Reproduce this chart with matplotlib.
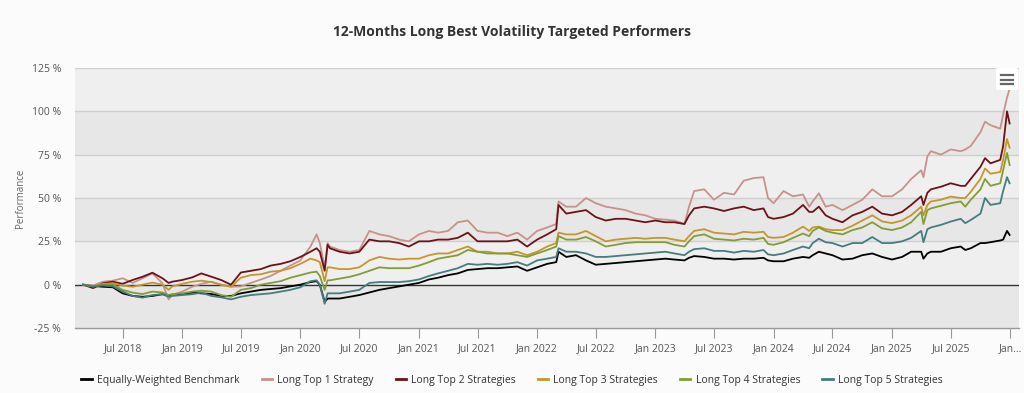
import matplotlib
matplotlib.use("Agg")
import matplotlib.pyplot as plt
from matplotlib.lines import Line2D
from matplotlib.patches import FancyBboxPatch
import pandas as pd

plt.rcParams['font.family'] = ['Open Sans', 'DejaVu Sans']

dates = [
    "2018-03-01", "2018-04-01", "2018-05-01", "2018-06-01", "2018-07-01", "2018-08-01",
    "2018-09-01", "2018-10-01", "2018-11-01", "2018-11-20", "2018-12-01", "2019-01-01",
    "2019-02-01", "2019-03-01", "2019-04-01", "2019-05-01", "2019-06-01", "2019-07-01",
    "2019-08-01", "2019-09-01", "2019-10-01", "2019-11-01", "2019-12-01", "2020-01-01",
    "2020-02-01", "2020-02-20", "2020-03-01", "2020-03-16", "2020-03-25", "2020-04-01",
    "2020-05-01", "2020-06-01", "2020-07-01", "2020-08-01", "2020-09-01", "2020-10-01",
    "2020-11-01", "2020-12-01", "2021-01-01", "2021-02-01", "2021-03-01", "2021-04-01",
    "2021-05-01", "2021-06-01", "2021-07-01", "2021-08-01", "2021-09-01", "2021-10-01",
    "2021-11-01", "2021-12-01", "2022-01-01", "2022-02-01", "2022-03-01", "2022-03-08",
    "2022-04-01", "2022-05-01", "2022-06-01", "2022-07-01", "2022-08-01", "2022-09-01",
    "2022-10-01", "2022-11-01", "2022-12-01", "2023-01-01", "2023-02-01", "2023-03-01",
    "2023-04-01", "2023-04-15", "2023-05-01", "2023-06-01", "2023-07-01", "2023-08-01",
    "2023-09-01", "2023-10-01", "2023-11-01", "2023-12-01", "2023-12-15", "2024-01-01",
    "2024-02-01", "2024-03-01", "2024-04-01", "2024-04-20", "2024-05-01", "2024-05-20",
    "2024-06-10", "2024-07-01", "2024-08-01", "2024-09-01", "2024-10-01", "2024-11-01",
    "2024-12-01", "2025-01-01", "2025-02-01", "2025-03-01", "2025-04-01", "2025-04-08",
    "2025-04-20", "2025-05-01", "2025-06-01", "2025-07-01", "2025-08-01", "2025-08-15",
    "2025-09-01", "2025-10-01", "2025-10-15", "2025-11-01", "2025-12-01", "2025-12-10",
    "2025-12-22", "2025-12-30",
]

benchmark = [
    0, -0.8, -1.2, -1.5, -5, -6.5, -7, -6.5, -5.5, -6.5, -6, -5.4,
    -4.6, -5, -5.4, -6.5, -6.5, -5, -4, -3, -2.5, -2, -1, 0,
    1.5, 2, 0, -10, -8, -8, -8, -7, -6, -4.5, -3, -2,
    -1, 0, 1, 3, 4, 5.5, 6.5, 8.5, 9, 9.5, 9.5, 10,
    10.5, 8, 10, 12, 13, 19, 16, 17, 14, 11.5, 12, 12.5,
    13, 13.5, 14, 14.5, 15, 14.5, 14, 15.5, 16.5, 16, 15, 15,
    14.5, 15, 15, 15.5, 14, 13.5, 13.5, 15, 16, 15.5, 17, 19,
    18, 17, 14.5, 15, 17, 18, 16, 14.5, 16, 19, 19, 15,
    18, 19, 19, 21, 22, 20, 21, 24, 24, 24.5, 25.5, 26,
    31, 28.7,
]

top1 = [
    0, -0.5, 1.7, 2.3, 3.7, 1, 3.7, 6.5, 0.8, -8.5, -6, -4,
    -1.2, 0.5, 1.7, 0, -1.2, -1, 1, 3, 5, 8, 11, 14,
    22, 29, 24, 10, 24, 22, 20, 19, 20, 31, 29, 28,
    26, 25, 29, 31, 30, 31, 36, 37, 31, 30, 30, 28,
    30, 26, 31, 33, 35, 48, 45, 45, 50, 47, 45, 44,
    43, 41, 40, 38, 37.5, 37, 35, 45, 54, 55, 49, 53,
    52, 60, 61.5, 62, 50, 47, 54, 51, 52, 45, 48, 52.7,
    45, 46, 43, 46, 49, 55, 51, 51, 55, 61, 66, 62,
    74, 77, 75, 78, 77, 78, 80, 88, 94, 92, 90, 98,
    108, 113,
]

top2 = [
    0, -2, 0.8, 1.7, 0.5, 2.7, 4.6, 6.9, 3.7, 1, 1.7, 2.7,
    4.2, 6.5, 4.6, 2.7, 0, 7, 8, 9, 11, 12, 13.5, 16,
    19, 21, 19, 8, 23, 21, 19, 18, 19, 26, 25, 25,
    24, 22, 25, 25, 26, 26, 27, 30, 25, 25, 25, 25,
    26, 22, 26, 29, 32, 46, 41, 42, 43, 39, 37, 38,
    38, 37, 36, 37, 36, 36, 35, 40, 44, 45, 44, 42.5,
    44, 45, 43, 44, 39, 38, 39, 41, 46, 42, 42, 45,
    40, 38, 36, 40, 42, 45, 41, 40, 42, 46, 51, 46,
    53, 55, 56.5, 58.5, 57, 57, 61, 68, 73, 70, 72, 80,
    100, 93,
]

top3 = [
    0, -0.8, 0.4, 0.8, -0.5, -1.2, 0, 1.2, 0, -3, -1, 0.5,
    1.7, 2.3, 1.5, 0, -1.2, 4, 5.5, 6, 7.5, 8, 9.5, 12,
    15, 14, 13, 2, 10, 10, 9, 9, 10, 14, 16, 15,
    14.5, 15, 15, 17, 18, 18, 20, 22, 19, 19, 18, 18,
    19, 17, 19, 22, 24, 30, 29, 29, 31, 28, 25, 26,
    26.5, 27, 26.5, 27, 27, 26, 25, 28, 31, 32, 30, 29.5,
    29, 30.5, 30, 30.5, 27.5, 27, 27.5, 30, 33.5, 31, 33, 33.5,
    32, 31.5, 31.5, 34, 37, 40, 36.5, 35.5, 37, 40, 45, 40,
    46, 48, 49, 50.8, 50, 50, 53.5, 61, 67, 64, 65, 72,
    84, 79,
]

top4 = [
    0, -1, 0, 0, -3, -4.6, -5.4, -4, -4.5, -6, -5.4, -5,
    -4, -3.5, -4, -6, -7, -3, -2, 0, 1, 2, 4, 5.5,
    7, 7.5, 5, -3, 2.5, 2.5, 3.5, 4.5, 6, 8, 10, 9.5,
    9.5, 9.5, 11, 13, 15, 16, 17, 20, 19, 18, 18, 18,
    17, 16, 18, 20, 22, 28, 26, 26, 27.5, 25, 22, 23,
    24, 24.5, 24.5, 24.5, 24.5, 23, 22, 25, 28, 29, 26.5, 26,
    25.5, 26.5, 26, 27, 23.5, 23, 24.5, 27, 29.5, 28, 31, 33,
    31, 30, 29, 31.5, 33, 36, 32.5, 31.5, 33, 36, 42, 35,
    43, 44, 45.5, 47, 48, 45, 49, 55, 61, 57, 58.5, 66,
    76, 69,
]

top5 = [
    0, -1, -0.5, -1, -4, -6.5, -7.5, -6, -5.5, -7, -6.5, -6,
    -5.5, -4.6, -6.5, -7.3, -8.5, -7, -6, -5.5, -5, -4, -3, -1.5,
    2, 2.5, 0, -11, -5, -5, -5, -4, -3, 1, 1.5, 1.5,
    1.5, 2, 3, 5, 6.5, 8, 9.5, 12, 11.5, 12, 11.5, 12,
    13, 11, 14, 15, 16, 21, 19, 19, 18, 16, 16, 16.5,
    17, 17.5, 18, 18.5, 19, 18, 17, 19, 20.5, 21, 19.5, 19.5,
    18.5, 19.5, 19, 20, 17.5, 17, 18, 20, 22, 21, 24, 26.5,
    24.5, 24, 22, 24, 24, 27.5, 24, 24, 25, 27, 31, 24.5,
    32, 33, 34.5, 36.4, 38, 35.5, 37.3, 41, 50, 46, 47, 54,
    62, 58.5,
]

series_names = ["Equally-Weighted Benchmark", "Long Top 1 Strategy", "Long Top 2 Strategies",
                "Long Top 3 Strategies", "Long Top 4 Strategies", "Long Top 5 Strategies"]
series_values = [benchmark, top1, top2, top3, top4, top5]
series_colors = ["#000000", "#c8928a", "#6c1218", "#c5962c", "#829c36", "#467c7e"]

tick_dates = ["2018-07-01", "2019-01-01", "2019-07-01", "2020-01-01", "2020-07-01",
              "2021-01-01", "2021-07-01", "2022-01-01", "2022-07-01", "2023-01-01",
              "2023-07-01", "2024-01-01", "2024-07-01", "2025-01-01", "2025-07-01",
              "2026-01-01"]
tick_labels = ["Jul 2018", "Jan 2019", "Jul 2019", "Jan 2020", "Jul 2020", "Jan 2021",
               "Jul 2021", "Jan 2022", "Jul 2022", "Jan 2023", "Jul 2023", "Jan 2024",
               "Jul 2024", "Jan 2025", "Jul 2025", "Jan..."]
y_ticks = [-25, 0, 25, 50, 75, 100, 125]

x = pd.to_datetime(dates)

fig = plt.figure(figsize=(10.24, 3.93), dpi=100, facecolor="#fbfbfb")
ax = fig.add_axes([75 / 1024, 1 - 328 / 393, (1019 - 75) / 1024, (328 - 68) / 393])
ax.set_facecolor("#ececec")

# alternating plot bands
for i, (lo, hi) in enumerate(zip(y_ticks[:-1], y_ticks[1:])):
    col = "#e7e7e7" if i % 2 == 0 else "#efefef"
    ax.axhspan(lo, hi, color=col, zorder=0, lw=0)

for v in y_ticks[1:]:
    if v == 0:
        continue
    ax.axhline(v, color="#cfcfcf", lw=1.0, zorder=1)
ax.axhline(0, color="#333333", lw=1.0, zorder=2)

for name, vals, col in zip(series_names, series_values, series_colors):
    ax.plot(x, vals, color=col, lw=1.3, label=name, zorder=3)

ax.set_xlim(pd.Timestamp("2018-02-04"), pd.Timestamp("2026-01-28"))
ax.set_ylim(-25, 125)
ax.set_yticks(y_ticks)
ax.set_yticklabels([f"{v} %" for v in y_ticks])
ax.set_xticks(pd.to_datetime(tick_dates))
ax.set_xticklabels(tick_labels)

for s in ["top", "right", "left"]:
    ax.spines[s].set_visible(False)
ax.spines["bottom"].set_color("#999999")
ax.spines["bottom"].set_linewidth(1.0)
ax.tick_params(axis="x", length=7, color="#999999", labelsize=7.5, labelcolor="#555555", pad=4)
ax.tick_params(axis="y", length=0, labelsize=7.5, labelcolor="#555555", pad=10)

ax.set_ylabel("Performance", fontsize=7, color="#666666")
ax.yaxis.set_label_coords(-0.052, 0.5)

fig.text(0.5, 1 - 32 / 393, "12-Months Long Best Volatility Targeted Performers",
         ha="center", va="center", fontsize=10, fontweight="bold", color="#333333")

handles = [Line2D([0], [0], color=c, lw=2) for c in series_colors]
fig.legend(handles, series_names, loc="center", bbox_to_anchor=(0.5, 1 - 380 / 393),
           ncol=6, frameon=False, fontsize=7.5, handlelength=1.0, handletextpad=0.5,
           columnspacing=2.1, labelcolor="#333333")

# context menu icon
icon = FancyBboxPatch((996 / 1024, 1 - 90 / 393), 22 / 1024, 22 / 393,
                      boxstyle="round,pad=0,rounding_size=0.003", transform=fig.transFigure,
                      facecolor="#ffffff", edgecolor="none", zorder=10)
fig.add_artist(icon)
for yy in [75, 79.5, 84]:
    fig.add_artist(Line2D([1001 / 1024, 1013 / 1024], [1 - yy / 393, 1 - yy / 393],
                          transform=fig.transFigure, color="#666666", lw=1.6, zorder=11))

fig.savefig("out.png", dpi=100, facecolor=fig.get_facecolor())
